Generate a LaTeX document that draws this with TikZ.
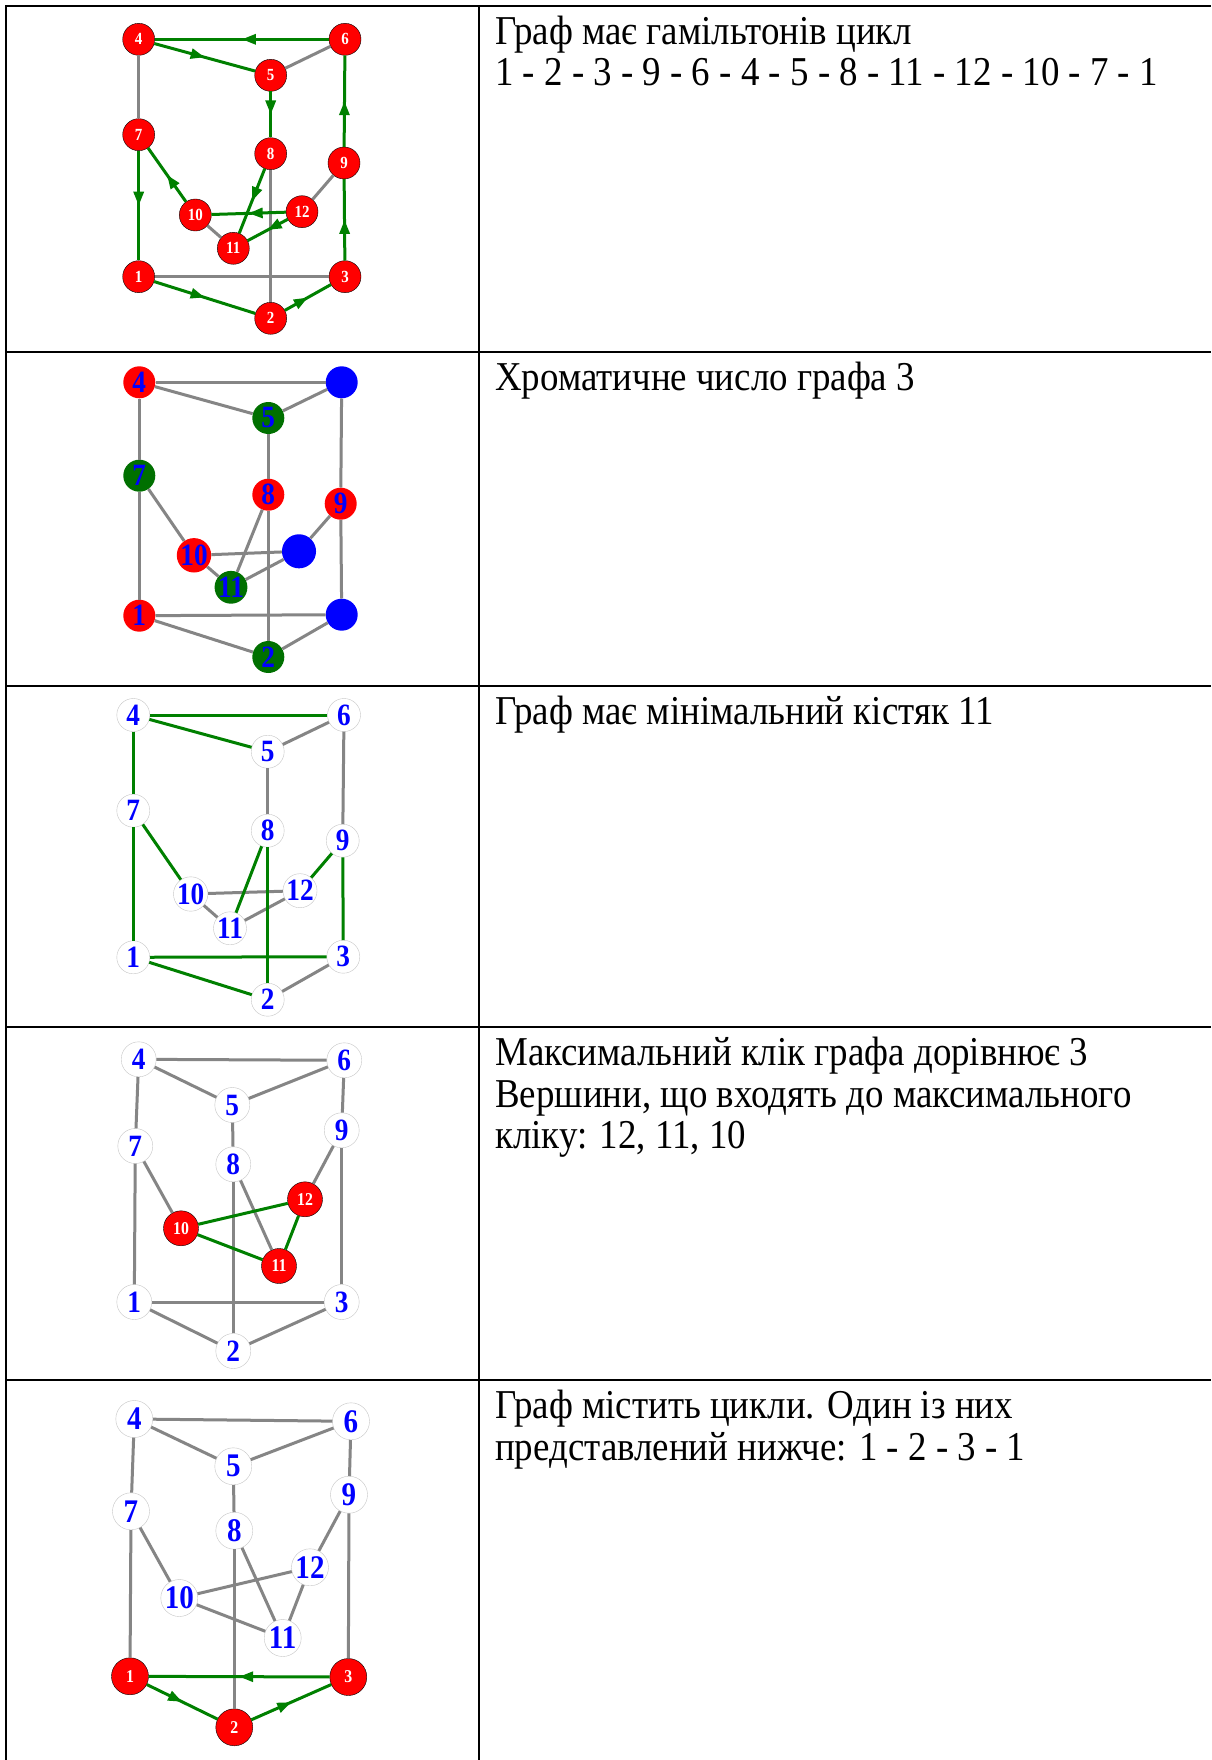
\documentclass[tikz,border=0pt]{standalone}
\usepackage{fontspec}
\setmainfont{Liberation Serif}
\newfontfamily\cellfont[FakeStretch=0.9]{Liberation Serif}
\newfontfamily\labelfont[FakeStretch=0.88]{Liberation Serif Bold}
\usetikzlibrary{arrows.meta}
\usetikzlibrary{decorations.markings}
\definecolor{edgegrey}{RGB}{133,133,133}
\definecolor{pathgreen}{RGB}{0,128,0}
\definecolor{vertred}{RGB}{255,0,0}
\definecolor{vertblue}{RGB}{0,0,255}
\definecolor{vertgreen}{RGB}{0,112,0}
\tikzset{
      vertex/.style={ % Common shape of every vertex
      circle, inner sep=0pt, minimum size=32pt},
      redvertex/.style={vertex, fill=vertred, draw=black, thin, text=white,
      font=\labelfont\fontsize{17}{17}\selectfont},
      whitevertex/.style={vertex, fill=white, draw=gray!45, thin, text=vertblue,
      font=\labelfont\fontsize{31}{31}\selectfont},
      colvertex/.style={vertex, text=vertblue, % Coloured vertices of the colouring
      font=\labelfont\fontsize{31}{31}\selectfont},
      every edge/.style={ % Sets the properties for each plain edge
      draw=edgegrey, line width=3pt},
      greenedge/.style={draw=pathgreen, line width=3pt},
      midarrow/.style={ % Arrow head in the middle of a directed edge
      postaction={decorate},
      decoration={markings,
      mark=at position 0.5 with {\arrow[pathgreen]{Triangle[length=14pt,width=10pt]}}}},
      rule/.style={line width=2pt, black},
      celltext/.style={anchor=base west, inner sep=0pt,
      font=\cellfont\fontsize{41}{41.5}\selectfont}}

\begin{document}
\begin{tikzpicture}[x=1pt, y=-1pt]
      \useasboundingbox (0,0) rectangle (1211,1760);
      \fill[white] (0,0) rectangle (1211,1760);
      % table
      \draw[rule] (5,6) -- (1211,6);
      \draw[rule] (5,352) -- (1211,352);
      \draw[rule] (5,686) -- (1211,686);
      \draw[rule] (5,1027) -- (1211,1027);
      \draw[rule] (5,1380) -- (1211,1380);
      \draw[rule] (5.5,6) -- (5.5,1760);
      \draw[rule] (479,6) -- (479,1760);

      % row 1: hamiltonian cycle
      \node[redvertex] (a4) at (138.7,39.3) {4};
      \node[redvertex] (a6) at (345,39.3) {6};
      \node[redvertex] (a5) at (270.7,75.3) {5};
      \node[redvertex] (a7) at (138.7,134.7) {7};
      \node[redvertex] (a8) at (270.7,153.7) {8};
      \node[redvertex] (a9) at (344,163) {9};
      \node[redvertex] (a10) at (195.3,215) {10};
      \node[redvertex] (a12) at (302,211.7) {12};
      \node[redvertex] (a11) at (233.3,248.3) {11};
      \node[redvertex] (a1) at (138.7,276.7) {1};
      \node[redvertex] (a3) at (345,276.7) {3};
      \node[redvertex] (a2) at (270.7,318.3) {2};
      \draw (a4) edge (a7) (a5) edge (a6) (a9) edge (a12)
            (a10) edge (a11) (a8) edge (a2) (a1) edge (a3);
      \draw[greenedge, midarrow] (a1) -- (a2);
      \draw[greenedge, midarrow] (a2) -- (a3);
      \draw[greenedge, midarrow] (a3) -- (a9);
      \draw[greenedge, midarrow] (a9) -- (a6);
      \draw[greenedge, midarrow] (a6) -- (a4);
      \draw[greenedge, midarrow] (a4) -- (a5);
      \draw[greenedge, midarrow] (a5) -- (a8);
      \draw[greenedge, midarrow] (a8) -- (a11);
      \draw[greenedge, midarrow] (a12) -- (a11);
      \draw[greenedge, midarrow] (a12) -- (a10);
      \draw[greenedge, midarrow] (a10) -- (a7);
      \draw[greenedge, midarrow] (a7) -- (a1);
      \node[celltext] (t1a) at (495,44.5) {Граф має гамільтонів цикл};
      \node[celltext] (t1b) at (495,86) {1 - 2 - 3 - 9 - 6 - 4 - 5 - 8 - 11 - 12 - 10 - 7 - 1};

      % row 2: colouring
      \node[colvertex, fill=vertred] (b4) at (139.3,382.3) {4};
      \node[colvertex, fill=vertblue] (b6) at (341.7,382.3) {6};
      \node[colvertex, fill=vertgreen] (b5) at (268.3,418) {5};
      \node[colvertex, fill=vertgreen] (b7) at (139.3,475.7) {7};
      \node[colvertex, fill=vertred] (b8) at (268.3,494.7) {8};
      \node[colvertex, fill=vertred] (b9) at (340.7,503.7) {9};
      \node[colvertex, fill=vertred] (b10) at (194,555.3) {10};
      \node[colvertex, fill=vertblue] (b12) at (299,551.3) {12};
      \node[colvertex, fill=vertgreen] (b11) at (231,587.3) {11};
      \node[colvertex, fill=vertred] (b1) at (139.3,615.7) {1};
      \node[colvertex, fill=vertblue] (b3) at (341.7,614.7) {3};
      \node[colvertex, fill=vertgreen] (b2) at (268.3,657) {2};
      \draw (b1) edge (b2) (b1) edge (b3) (b1) edge (b7) (b2) edge (b3)
            (b2) edge (b8) (b3) edge (b9) (b4) edge (b5) (b4) edge (b6)
            (b4) edge (b7) (b5) edge (b6) (b5) edge (b8) (b6) edge (b9)
            (b7) edge (b10) (b8) edge (b11) (b9) edge (b12) (b10) edge (b11)
            (b10) edge (b12) (b11) edge (b12);
      \node[celltext] (t2a) at (495,390.5) {Хроматичне число графа 3};

      % row 3: minimum spanning tree
      \node[whitevertex, minimum size=33pt] (c4) at (133.3,715) {4};
      \node[whitevertex, minimum size=33pt] (c6) at (344,715) {6};
      \node[whitevertex, minimum size=33pt] (c5) at (267.7,751.7) {5};
      \node[whitevertex, minimum size=33pt] (c7) at (133.3,810.7) {7};
      \node[whitevertex, minimum size=33pt] (c8) at (267.7,830.7) {8};
      \node[whitevertex, minimum size=33pt] (c9) at (342.7,840.7) {9};
      \node[whitevertex, minimum size=33pt] (c10) at (190.7,894) {10};
      \node[whitevertex, minimum size=33pt] (c12) at (300,890.7) {12};
      \node[whitevertex, minimum size=33pt] (c11) at (230,928.3) {11};
      \node[whitevertex, minimum size=33pt] (c1) at (133.3,957.3) {1};
      \node[whitevertex, minimum size=33pt] (c3) at (343.3,956.7) {3};
      \node[whitevertex, minimum size=33pt] (c2) at (267.7,999.7) {2};
      \draw (c5) edge (c6) (c5) edge (c8) (c6) edge (c9) (c10) edge (c12)
            (c10) edge (c11) (c11) edge (c12) (c2) edge (c3);
      \draw[greenedge] (c4) -- (c6);
      \draw[greenedge] (c4) -- (c5);
      \draw[greenedge] (c4) -- (c7);
      \draw[greenedge] (c7) -- (c1);
      \draw[greenedge] (c7) -- (c10);
      \draw[greenedge] (c8) -- (c11);
      \draw[greenedge] (c8) -- (c2);
      \draw[greenedge] (c9) -- (c12);
      \draw[greenedge] (c9) -- (c3);
      \draw[greenedge] (c1) -- (c3);
      \draw[greenedge] (c1) -- (c2);
      \node[celltext] (t3a) at (495,724.5) {Граф має мінімальний кістяк 11};

      % row 4: maximum clique
      \node[whitevertex, minimum size=35pt] (d4) at (138.7,1059.3) {4};
      \node[whitevertex, minimum size=35pt] (d6) at (344.3,1060.3) {6};
      \node[whitevertex, minimum size=35pt] (d5) at (232.3,1105) {5};
      \node[whitevertex, minimum size=35pt] (d9) at (341.7,1130.3) {9};
      \node[whitevertex, minimum size=35pt] (d7) at (135.3,1146) {7};
      \node[whitevertex, minimum size=35pt] (d8) at (233.3,1164.3) {8};
      \node[redvertex, minimum size=35pt, font=\labelfont\fontsize{18}{18}\selectfont] (d12) at (305,1199.3) {12};
      \node[redvertex, minimum size=35pt, font=\labelfont\fontsize{18}{18}\selectfont] (d10) at (181,1228.3) {10};
      \node[redvertex, minimum size=35pt, font=\labelfont\fontsize{18}{18}\selectfont] (d11) at (279,1266) {11};
      \node[whitevertex, minimum size=35pt] (d1) at (134.3,1302) {1};
      \node[whitevertex, minimum size=35pt] (d3) at (341.7,1302) {3};
      \node[whitevertex, minimum size=35pt] (d2) at (233.3,1351) {2};
      \draw (d1) edge (d2) (d1) edge (d3) (d1) edge (d7) (d2) edge (d3)
            (d2) edge (d8) (d3) edge (d9) (d4) edge (d5) (d4) edge (d6)
            (d4) edge (d7) (d5) edge (d6) (d5) edge (d8) (d6) edge (d9)
            (d7) edge (d10) (d8) edge (d11) (d9) edge (d12);
      \draw[greenedge] (d10) -- (d12);
      \draw[greenedge] (d10) -- (d11);
      \draw[greenedge] (d11) -- (d12);
      \node[celltext] (t4a) at (495,1065.5) {Максимальний клік графа дорівнює 3};
      \node[celltext] (t4b) at (495,1107) {Вершини, що входять до максимального};
      \node[celltext] (t4c) at (495,1148.5) {кліку: 12, 11, 10};

      % row 5: a cycle
      \node[whitevertex, minimum size=37pt, font=\labelfont\fontsize{33}{33}\selectfont] (e4) at (134.3,1419) {4};
      \node[whitevertex, minimum size=37pt, font=\labelfont\fontsize{33}{33}\selectfont] (e6) at (351,1421.3) {6};
      \node[whitevertex, minimum size=37pt, font=\labelfont\fontsize{33}{33}\selectfont] (e5) at (233.3,1466.3) {5};
      \node[whitevertex, minimum size=37pt, font=\labelfont\fontsize{33}{33}\selectfont] (e9) at (349,1494.7) {9};
      \node[whitevertex, minimum size=37pt, font=\labelfont\fontsize{33}{33}\selectfont] (e7) at (131,1511.3) {7};
      \node[whitevertex, minimum size=37pt, font=\labelfont\fontsize{33}{33}\selectfont] (e8) at (234.3,1530.7) {8};
      \node[whitevertex, minimum size=37pt, font=\labelfont\fontsize{33}{33}\selectfont] (e12) at (310,1567.3) {12};
      \node[whitevertex, minimum size=37pt, font=\labelfont\fontsize{33}{33}\selectfont] (e10) at (179.3,1598) {10};
      \node[whitevertex, minimum size=37pt, font=\labelfont\fontsize{33}{33}\selectfont] (e11) at (282.7,1638) {11};
      \node[redvertex, minimum size=37pt, font=\labelfont\fontsize{18}{18}\selectfont] (e1) at (130,1676.3) {1};
      \node[redvertex, minimum size=37pt, font=\labelfont\fontsize{18}{18}\selectfont] (e3) at (348.3,1677) {3};
      \node[redvertex, minimum size=37pt, font=\labelfont\fontsize{18}{18}\selectfont] (e2) at (234.3,1727.3) {2};
      \draw (e1) edge (e7) (e2) edge (e8) (e3) edge (e9) (e4) edge (e5)
            (e4) edge (e6) (e4) edge (e7) (e5) edge (e6) (e5) edge (e8)
            (e6) edge (e9) (e7) edge (e10) (e8) edge (e11) (e9) edge (e12)
            (e10) edge (e11) (e10) edge (e12) (e11) edge (e12);
      \draw[greenedge, midarrow] (e3) -- (e1);
      \draw[greenedge, midarrow] (e1) -- (e2);
      \draw[greenedge, midarrow] (e2) -- (e3);
      \node[celltext] (t5a) at (495,1418.5) {Граф містить цикли. Один із них};
      \node[celltext] (t5b) at (495,1460) {представлений нижче: 1 - 2 - 3 - 1};
\end{tikzpicture}
\end{document}
